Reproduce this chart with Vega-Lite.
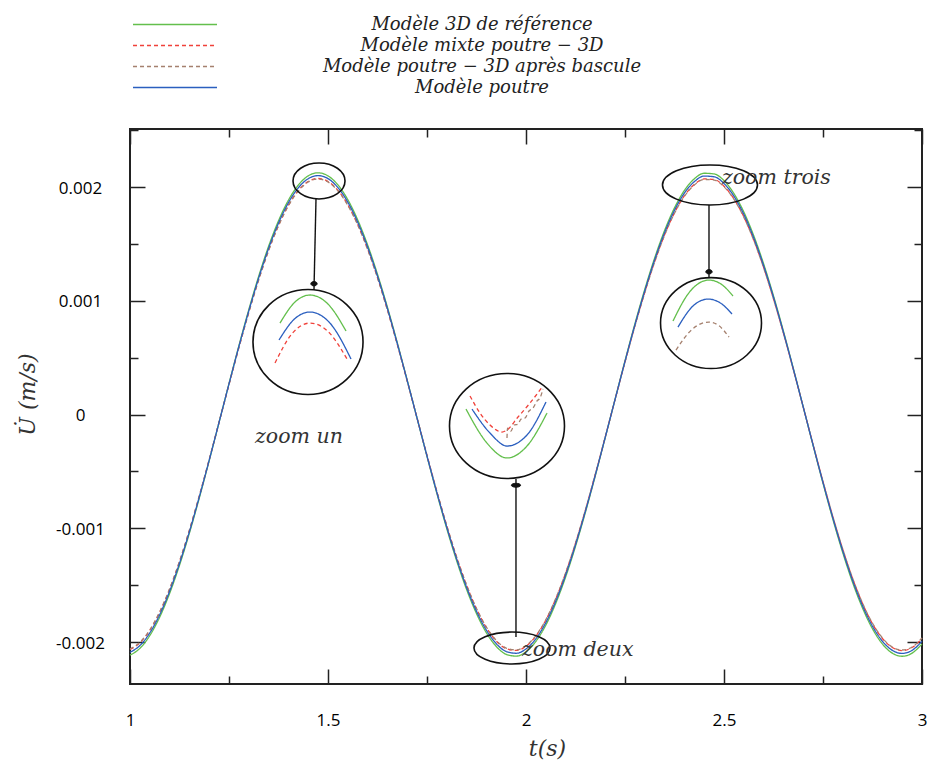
{
  "$schema": "https://vega.github.io/schema/vega-lite/v6.json",
  "width": 792,
  "height": 555,
  "autosize": {"type": "none"},
  "padding": {"left": 130, "top": 129, "right": 5, "bottom": 88},
  "background": "white",
  "config": {
    "view": {"stroke": "#222", "strokeWidth": 2},
    "axis": {"grid": false, "domain": false}
  },
  "datasets": {
    "curves": [
      {"t":1.000,"g":-0.002115,"r":-0.002066,"p":-0.002061,"b":-0.002090},
      {"t":1.025,"g":-0.002056,"r":-0.002007,"p":-0.002002,"b":-0.002031},
      {"t":1.050,"g":-0.001943,"r":-0.001897,"p":-0.001893,"b":-0.001920},
      {"t":1.075,"g":-0.001781,"r":-0.001739,"p":-0.001735,"b":-0.001760},
      {"t":1.100,"g":-0.001573,"r":-0.001536,"p":-0.001532,"b":-0.001554},
      {"t":1.125,"g":-0.001325,"r":-0.001294,"p":-0.001291,"b":-0.001309},
      {"t":1.150,"g":-0.001043,"r":-0.001018,"p":-0.001016,"b":-0.001031},
      {"t":1.175,"g":-0.000734,"r":-0.000717,"p":-0.000715,"b":-0.000725},
      {"t":1.200,"g":-0.000406,"r":-0.000397,"p":-0.000396,"b":-0.000402},
      {"t":1.225,"g":-0.000068,"r":-0.000067,"p":-0.000066,"b":-0.000067},
      {"t":1.250,"g":0.000272,"r":0.000265,"p":0.000265,"b":0.000269},
      {"t":1.275,"g":0.000605,"r":0.000590,"p":0.000589,"b":0.000598},
      {"t":1.300,"g":0.000922,"r":0.000900,"p":0.000898,"b":0.000911},
      {"t":1.325,"g":0.001216,"r":0.001187,"p":0.001184,"b":0.001201},
      {"t":1.350,"g":0.001479,"r":0.001444,"p":0.001441,"b":0.001461},
      {"t":1.375,"g":0.001703,"r":0.001663,"p":0.001659,"b":0.001683},
      {"t":1.400,"g":0.001884,"r":0.001840,"p":0.001835,"b":0.001862},
      {"t":1.425,"g":0.002017,"r":0.001969,"p":0.001964,"b":0.001993},
      {"t":1.450,"g":0.002098,"r":0.002048,"p":0.002044,"b":0.002073},
      {"t":1.475,"g":0.002125,"r":0.002075,"p":0.002070,"b":0.002100},
      {"t":1.500,"g":0.002098,"r":0.002049,"p":0.002044,"b":0.002074},
      {"t":1.525,"g":0.002019,"r":0.001971,"p":0.001967,"b":0.001995},
      {"t":1.550,"g":0.001889,"r":0.001844,"p":0.001840,"b":0.001867},
      {"t":1.575,"g":0.001711,"r":0.001671,"p":0.001667,"b":0.001691},
      {"t":1.600,"g":0.001491,"r":0.001456,"p":0.001452,"b":0.001473},
      {"t":1.625,"g":0.001233,"r":0.001204,"p":0.001201,"b":0.001218},
      {"t":1.650,"g":0.000944,"r":0.000922,"p":0.000919,"b":0.000933},
      {"t":1.675,"g":0.000631,"r":0.000616,"p":0.000615,"b":0.000624},
      {"t":1.700,"g":0.000302,"r":0.000295,"p":0.000295,"b":0.000299},
      {"t":1.725,"g":-0.000034,"r":-0.000033,"p":-0.000033,"b":-0.000033},
      {"t":1.750,"g":-0.000369,"r":-0.000360,"p":-0.000359,"b":-0.000365},
      {"t":1.775,"g":-0.000695,"r":-0.000679,"p":-0.000677,"b":-0.000687},
      {"t":1.800,"g":-0.001004,"r":-0.000980,"p":-0.000978,"b":-0.000992},
      {"t":1.825,"g":-0.001287,"r":-0.001257,"p":-0.001254,"b":-0.001272},
      {"t":1.850,"g":-0.001538,"r":-0.001502,"p":-0.001498,"b":-0.001520},
      {"t":1.875,"g":-0.001750,"r":-0.001709,"p":-0.001705,"b":-0.001730},
      {"t":1.900,"g":-0.001919,"r":-0.001874,"p":-0.001869,"b":-0.001896},
      {"t":1.925,"g":-0.002039,"r":-0.001991,"p":-0.001986,"b":-0.002015},
      {"t":1.950,"g":-0.002108,"r":-0.002058,"p":-0.002053,"b":-0.002083},
      {"t":1.975,"g":-0.002124,"r":-0.002074,"p":-0.002069,"b":-0.002099},
      {"t":2.000,"g":-0.002086,"r":-0.002037,"p":-0.002032,"b":-0.002061},
      {"t":2.025,"g":-0.001994,"r":-0.001947,"p":-0.001943,"b":-0.001971},
      {"t":2.050,"g":-0.001852,"r":-0.001808,"p":-0.001804,"b":-0.001830},
      {"t":2.075,"g":-0.001661,"r":-0.001622,"p":-0.001618,"b":-0.001642},
      {"t":2.100,"g":-0.001429,"r":-0.001395,"p":-0.001392,"b":-0.001412},
      {"t":2.125,"g":-0.001159,"r":-0.001132,"p":-0.001129,"b":-0.001146},
      {"t":2.150,"g":-0.000860,"r":-0.000840,"p":-0.000838,"b":-0.000850},
      {"t":2.175,"g":-0.000539,"r":-0.000526,"p":-0.000525,"b":-0.000533},
      {"t":2.200,"g":-0.000204,"r":-0.000199,"p":-0.000199,"b":-0.000202},
      {"t":2.225,"g":0.000136,"r":0.000133,"p":0.000132,"b":0.000134},
      {"t":2.250,"g":0.000473,"r":0.000462,"p":0.000461,"b":0.000467},
      {"t":2.275,"g":0.000797,"r":0.000779,"p":0.000777,"b":0.000788},
      {"t":2.300,"g":0.001101,"r":0.001075,"p":0.001073,"b":0.001088},
      {"t":2.325,"g":0.001377,"r":0.001345,"p":0.001342,"b":0.001361},
      {"t":2.350,"g":0.001618,"r":0.001580,"p":0.001576,"b":0.001599},
      {"t":2.375,"g":0.001817,"r":0.001774,"p":0.001770,"b":0.001796},
      {"t":2.400,"g":0.001970,"r":0.001924,"p":0.001919,"b":0.001947},
      {"t":2.425,"g":0.002072,"r":0.002023,"p":0.002018,"b":0.002047},
      {"t":2.450,"g":0.002121,"r":0.002071,"p":0.002066,"b":0.002096},
      {"t":2.475,"g":0.002115,"r":0.002066,"p":0.002061,"b":0.002090},
      {"t":2.500,"g":0.002056,"r":0.002007,"p":0.002002,"b":0.002031},
      {"t":2.525,"g":0.001943,"r":0.001897,"p":0.001893,"b":0.001920},
      {"t":2.550,"g":0.001781,"r":0.001739,"p":0.001735,"b":0.001760},
      {"t":2.575,"g":0.001573,"r":0.001536,"p":0.001532,"b":0.001554},
      {"t":2.600,"g":0.001325,"r":0.001294,"p":0.001291,"b":0.001309},
      {"t":2.625,"g":0.001043,"r":0.001018,"p":0.001016,"b":0.001031},
      {"t":2.650,"g":0.000734,"r":0.000717,"p":0.000715,"b":0.000725},
      {"t":2.675,"g":0.000406,"r":0.000397,"p":0.000396,"b":0.000402},
      {"t":2.700,"g":0.000068,"r":0.000067,"p":0.000066,"b":0.000067},
      {"t":2.725,"g":-0.000272,"r":-0.000265,"p":-0.000265,"b":-0.000269},
      {"t":2.750,"g":-0.000605,"r":-0.000590,"p":-0.000589,"b":-0.000598},
      {"t":2.775,"g":-0.000922,"r":-0.000900,"p":-0.000898,"b":-0.000911},
      {"t":2.800,"g":-0.001216,"r":-0.001187,"p":-0.001184,"b":-0.001201},
      {"t":2.825,"g":-0.001479,"r":-0.001444,"p":-0.001441,"b":-0.001461},
      {"t":2.850,"g":-0.001703,"r":-0.001663,"p":-0.001659,"b":-0.001683},
      {"t":2.875,"g":-0.001884,"r":-0.001840,"p":-0.001835,"b":-0.001862},
      {"t":2.900,"g":-0.002017,"r":-0.001969,"p":-0.001964,"b":-0.001993},
      {"t":2.925,"g":-0.002098,"r":-0.002048,"p":-0.002044,"b":-0.002073},
      {"t":2.950,"g":-0.002125,"r":-0.002075,"p":-0.002070,"b":-0.002100},
      {"t":2.975,"g":-0.002098,"r":-0.002048,"p":-0.002044,"b":-0.002073},
      {"t":3.000,"g":-0.002017,"r":-0.001969,"p":-0.001964,"b":-0.001993}
    ],
    "insets": [
      {"grp":"A","model":"g","t":1.3788,"v":0.000804},
      {"grp":"A","model":"g","t":1.4167,"v":0.000989},
      {"grp":"A","model":"g","t":1.4545,"v":0.0010505},
      {"grp":"A","model":"g","t":1.5000,"v":0.000971},
      {"grp":"A","model":"g","t":1.5455,"v":0.000734},
      {"grp":"A","model":"b","t":1.3763,"v":0.000655},
      {"grp":"A","model":"b","t":1.4167,"v":0.000844},
      {"grp":"A","model":"b","t":1.4545,"v":0.000901},
      {"grp":"A","model":"b","t":1.5051,"v":0.000803},
      {"grp":"A","model":"b","t":1.5581,"v":0.000488},
      {"grp":"A","model":"r","t":1.3662,"v":0.000453},
      {"grp":"A","model":"r","t":1.4091,"v":0.000711},
      {"grp":"A","model":"r","t":1.4545,"v":0.000804},
      {"grp":"A","model":"r","t":1.5000,"v":0.000730},
      {"grp":"A","model":"r","t":1.5480,"v":0.000488},
      {"grp":"B","model":"g","t":1.8485,"v":0.000048},
      {"grp":"B","model":"g","t":1.9015,"v":-0.000251},
      {"grp":"B","model":"g","t":1.9520,"v":-0.000382},
      {"grp":"B","model":"g","t":2.0025,"v":-0.000277},
      {"grp":"B","model":"g","t":2.0530,"v":0.000013},
      {"grp":"B","model":"b","t":1.8636,"v":0.000048},
      {"grp":"B","model":"b","t":1.9091,"v":-0.000163},
      {"grp":"B","model":"b","t":1.9520,"v":-0.000277},
      {"grp":"B","model":"b","t":2.0025,"v":-0.000180},
      {"grp":"B","model":"b","t":2.0505,"v":0.000110},
      {"grp":"B","model":"r","t":1.8586,"v":0.000163},
      {"grp":"B","model":"r","t":1.8838,"v":0.000013},
      {"grp":"B","model":"r","t":1.9091,"v":-0.000092},
      {"grp":"B","model":"r","t":1.9394,"v":-0.000154},
      {"grp":"B","model":"r","t":1.9520,"v":-0.000136},
      {"grp":"B","model":"r","t":1.9798,"v":-0.000022},
      {"grp":"B","model":"r","t":2.0101,"v":0.000101},
      {"grp":"B","model":"r","t":2.0429,"v":0.000251},
      {"grp":"B","model":"p","t":1.9520,"v":-0.000207},
      {"grp":"B","model":"p","t":1.9533,"v":-0.000119},
      {"grp":"B","model":"p","t":1.9621,"v":-0.000145},
      {"grp":"B","model":"p","t":1.9697,"v":-0.000092},
      {"grp":"B","model":"p","t":1.9798,"v":-0.000084},
      {"grp":"B","model":"p","t":1.9874,"v":-0.000040},
      {"grp":"B","model":"p","t":1.9975,"v":-0.000031},
      {"grp":"B","model":"p","t":2.0076,"v":0.000031},
      {"grp":"B","model":"p","t":2.0177,"v":0.000057},
      {"grp":"B","model":"p","t":2.0278,"v":0.000119},
      {"grp":"B","model":"p","t":2.0354,"v":0.000145},
      {"grp":"B","model":"p","t":2.0429,"v":0.000224},
      {"grp":"C","model":"g","t":2.3712,"v":0.000822},
      {"grp":"C","model":"g","t":2.4141,"v":0.001082},
      {"grp":"C","model":"g","t":2.4621,"v":0.001182},
      {"grp":"C","model":"g","t":2.4949,"v":0.001141},
      {"grp":"C","model":"g","t":2.5227,"v":0.001042},
      {"grp":"C","model":"b","t":2.3838,"v":0.000769},
      {"grp":"C","model":"b","t":2.4217,"v":0.000954},
      {"grp":"C","model":"b","t":2.4596,"v":0.001015},
      {"grp":"C","model":"b","t":2.4899,"v":0.000983},
      {"grp":"C","model":"b","t":2.5202,"v":0.000884},
      {"grp":"C","model":"p","t":2.3788,"v":0.000567},
      {"grp":"C","model":"p","t":2.4192,"v":0.000748},
      {"grp":"C","model":"p","t":2.4621,"v":0.000813},
      {"grp":"C","model":"p","t":2.4874,"v":0.000780},
      {"grp":"C","model":"p","t":2.5126,"v":0.000681}
    ],
    "shapes": [
      {"name":"e1","t":1.4773,"v":0.002053},
      {"name":"e2","t":1.9646,"v":-0.002053},
      {"name":"e3","t":2.4646,"v":0.002018},
      {"name":"c1","t":1.4495,"v":0.000637},
      {"name":"c2","t":1.9520,"v":-0.000101},
      {"name":"c3","t":2.4672,"v":0.000804}
    ],
    "arrows": [
      {"t":1.4697,"v":0.001895,"t2":1.4646,"v2":0.001095},
      {"t":1.9747,"v":-0.001956,"t2":1.9747,"v2":-0.000567},
      {"t":2.4621,"v":0.001842,"t2":2.4621,"v2":0.0012}
    ],
    "heads": [
      {"t":1.4646,"v":0.00115,"dir":"down"},
      {"t":1.9747,"v":-0.000622,"dir":"up"},
      {"t":2.4621,"v":0.001255,"dir":"down"}
    ],
    "notes": [
      {"t":1.3157,"v":-0.000198,"label":"zoom un"},
      {"t":1.9899,"v":-0.00207,"label":"zoom deux"},
      {"t":2.4949,"v":0.002079,"label":"zoom trois"}
    ]
  },
  "layer": [
    {
      "data": {"name": "curves"},
      "transform": [{"fold": ["g", "r", "p", "b"], "as": ["model", "val"]}],
      "mark": {"type": "line", "strokeWidth": 1.3, "interpolate": "monotone"},
      "encoding": {
        "x": {
          "field": "t", "type": "quantitative",
          "scale": {"domain": [1, 3], "nice": false, "zero": false},
          "axis": {
            "orient": "bottom",
            "values": [1, 1.25, 1.5, 1.75, 2, 2.25, 2.5, 2.75, 3],
            "format": "~g",
            "labelExpr": "datum.value*2 == round(datum.value*2) ? datum.label : ''",
            "tickSize": {"condition": {"test": "datum.value*2 == round(datum.value*2)", "value": -15}, "value": -8},
            "tickColor": "#222", "tickWidth": 1.5,
            "labelFont": "Open Sans", "labelFontSize": 17, "labelColor": "#000",
            "labelPadding": 43, "labelFlush": false, "labelOverlap": false,
            "title": "t(s)", "titleFont": "DejaVu Serif", "titleFontStyle": "italic",
            "titleFontWeight": "normal", "titleFontSize": 22, "titleColor": "#333",
            "titleX": 417, "titleY": 64, "titleAlign": "center", "titleBaseline": "middle"
          }
        },
        "y": {
          "field": "val", "type": "quantitative",
          "scale": {"domain": [-0.002369, 0.00251], "nice": false, "zero": false},
          "axis": {
            "orient": "left",
            "values": [-0.002, -0.0015, -0.001, -0.0005, 0, 0.0005, 0.001, 0.0015, 0.002, 0.0025],
            "labelExpr": "abs(datum.value*1000 - round(datum.value*1000)) < 0.01 ? replace(format(datum.value, '.3~f'), '\u2212', '-') : ''",
            "tickSize": {"condition": {"test": "abs(datum.value*1000 - round(datum.value*1000)) < 0.01", "value": -15}, "value": -8},
            "tickColor": "#222", "tickWidth": 1.5,
            "labelFont": "Open Sans", "labelFontSize": 17, "labelColor": "#000",
            "labelAlign": "center", "labelBaseline": "middle", "labelOffset": 1,
            "labelPadding": 65, "labelOverlap": false, "labelFlush": false,
            "title": "U\u0307 (m/s)", "titleFont": "DejaVu Serif", "titleFontStyle": "italic",
            "titleFontWeight": "normal", "titleFontSize": 22, "titleColor": "#333",
            "titleX": -103, "titleY": 265, "titleAlign": "center", "titleBaseline": "middle", "titleAngle": -90
          }
        },
        "color": {
          "field": "model", "type": "nominal",
          "scale": {"domain": ["g", "r", "p", "b"], "range": ["#63bf4c", "#f0413a", "#a5806e", "#2b5fbf"]},
          "legend": {
            "orient": "none", "legendX": 2, "legendY": -115, "title": null,
            "symbolType": "stroke", "symbolSize": 7056, "symbolStrokeWidth": 1.5,
            "labelFont": "DejaVu Serif", "labelFontStyle": "italic", "labelFontSize": 18, "labelColor": "#222",
            "labelAlign": "center", "labelOffset": 264, "labelLimit": 0,
            "clipHeight": 21, "rowPadding": 0, "padding": 0,
            "labelExpr": "datum.label == 'g' ? 'Modèle 3D de référence' : datum.label == 'r' ? 'Modèle mixte poutre − 3D' : datum.label == 'p' ? 'Modèle poutre − 3D après bascule' : 'Modèle poutre'"
          }
        },
        "strokeDash": {
          "field": "model", "type": "nominal",
          "scale": {"domain": ["g", "r", "p", "b"], "range": [[1, 0], [4, 3], [4, 3], [1, 0]]},
          "legend": {
            "orient": "none", "legendX": 2, "legendY": -115, "title": null,
            "symbolType": "stroke", "symbolSize": 7056, "symbolStrokeWidth": 1.5,
            "labelFont": "DejaVu Serif", "labelFontStyle": "italic", "labelFontSize": 18, "labelColor": "#222",
            "labelAlign": "center", "labelOffset": 264, "labelLimit": 0,
            "clipHeight": 21, "rowPadding": 0, "padding": 0,
            "labelExpr": "datum.label == 'g' ? 'Modèle 3D de référence' : datum.label == 'r' ? 'Modèle mixte poutre − 3D' : datum.label == 'p' ? 'Modèle poutre − 3D après bascule' : 'Modèle poutre'"
          }
        }
      }
    },
    {
      "data": {"name": "insets"},
      "mark": {"type": "line", "strokeWidth": 1.3, "interpolate": "monotone"},
      "encoding": {
        "x": {"field": "t", "type": "quantitative", "scale": {"domain": [1, 3], "nice": false, "zero": false}, "axis": null},
        "y": {"field": "v", "type": "quantitative", "scale": {"domain": [-0.002369, 0.00251], "nice": false, "zero": false}, "axis": null},
        "color": {"field": "model", "type": "nominal", "scale": {"domain": ["g", "r", "p", "b"], "range": ["#63bf4c", "#f0413a", "#a5806e", "#2b5fbf"]}},
        "strokeDash": {"field": "model", "type": "nominal", "scale": {"domain": ["g", "r", "p", "b"], "range": [[1, 0], [4, 3], [4, 3], [1, 0]]}},
        "detail": {"field": "grp", "type": "nominal"}
      }
    },
    {
      "data": {"name": "shapes"},
      "mark": {"type": "point", "filled": false, "stroke": "#111", "strokeWidth": 1.6, "opacity": 1, "size": 13225},
      "encoding": {
        "x": {
          "field": "t", "type": "quantitative", "scale": {"domain": [1, 3], "nice": false, "zero": false},
          "axis": {
            "orient": "top", "values": [1, 1.25, 1.5, 1.75, 2, 2.25, 2.5, 2.75, 3], "labels": false, "title": null,
            "tickSize": {"condition": {"test": "datum.value*2 == round(datum.value*2)", "value": -15}, "value": -8},
            "tickColor": "#222", "tickWidth": 1.5
          }
        },
        "y": {
          "field": "v", "type": "quantitative", "scale": {"domain": [-0.002369, 0.00251], "nice": false, "zero": false},
          "axis": {
            "orient": "right", "values": [-0.002, -0.0015, -0.001, -0.0005, 0, 0.0005, 0.001, 0.0015, 0.002, 0.0025], "labels": false, "title": null,
            "tickSize": {"condition": {"test": "abs(datum.value*1000 - round(datum.value*1000)) < 0.01", "value": -15}, "value": -8},
            "tickColor": "#222", "tickWidth": 1.5
          }
        },
        "shape": {
          "field": "name", "type": "nominal", "legend": null,
          "scale": {
            "domain": ["e1", "e2", "e3", "c1", "c2", "c3"],
            "range": [
              "M-0.452,0A0.452,0.313,0,1,1,0.452,0A0.452,0.313,0,1,1,-0.452,0Z",
              "M-0.661,0A0.661,0.278,0,1,1,0.661,0A0.661,0.278,0,1,1,-0.661,0Z",
              "M-0.826,0A0.826,0.348,0,1,1,0.826,0A0.826,0.348,0,1,1,-0.826,0Z",
              "M-0.957,0A0.957,0.913,0,1,1,0.957,0A0.957,0.913,0,1,1,-0.957,0Z",
              "M-1,0A1,0.913,0,1,1,1,0A1,0.913,0,1,1,-1,0Z",
              "M-0.878,0A0.878,0.791,0,1,1,0.878,0A0.878,0.791,0,1,1,-0.878,0Z"
            ]
          }
        }
      }
    },
    {
      "data": {"name": "arrows"},
      "mark": {"type": "rule", "color": "#111", "strokeWidth": 1.4},
      "encoding": {
        "x": {"field": "t", "type": "quantitative", "scale": {"domain": [1, 3], "nice": false, "zero": false}, "axis": null},
        "y": {"field": "v", "type": "quantitative", "scale": {"domain": [-0.002369, 0.00251], "nice": false, "zero": false}, "axis": null},
        "x2": {"field": "t2"},
        "y2": {"field": "v2"}
      }
    },
    {
      "data": {"name": "heads"},
      "mark": {"type": "point", "filled": true, "fill": "#111", "stroke": "#111", "strokeWidth": 1, "opacity": 1, "size": 196},
      "encoding": {
        "x": {"field": "t", "type": "quantitative", "scale": {"domain": [1, 3], "nice": false, "zero": false}, "axis": null},
        "y": {"field": "v", "type": "quantitative", "scale": {"domain": [-0.002369, 0.00251], "nice": false, "zero": false}, "axis": null},
        "shape": {"field": "dir", "type": "nominal", "legend": null, "scale": {"domain": ["down", "up"], "range": ["M-0.75,-0.8L0.75,-0.8L0,0.8Z", "M-0.75,0.8L0.75,0.8L0,-0.8Z"]}}
      }
    },
    {
      "data": {"name": "notes"},
      "mark": {"type": "text", "align": "left", "baseline": "middle", "font": "DejaVu Serif", "fontStyle": "italic", "fontSize": 20.5, "color": "#333"},
      "encoding": {
        "x": {"field": "t", "type": "quantitative", "scale": {"domain": [1, 3], "nice": false, "zero": false}, "axis": null},
        "y": {"field": "v", "type": "quantitative", "scale": {"domain": [-0.002369, 0.00251], "nice": false, "zero": false}, "axis": null},
        "text": {"field": "label", "type": "nominal"}
      }
    }
  ],
  "resolve": {"axis": {"x": "independent", "y": "independent"}}
}
